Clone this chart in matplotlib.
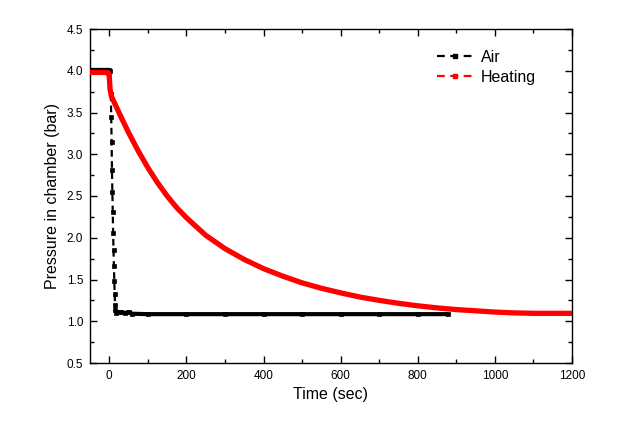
import numpy as np
import matplotlib
matplotlib.use("Agg")
import matplotlib.pyplot as plt
from matplotlib.lines import Line2D
from matplotlib.ticker import MultipleLocator

plt.rcParams['font.family'] = ['Liberation Sans', 'DejaVu Sans']

# Air series (time in s, pressure in bar)
air_t = [-50, -40, -30, -20, -10, 0, 3, 4, 5, 6, 7, 8, 9, 10, 11, 12, 13, 14, 15, 16,
         18, 22, 30, 40, 50, 60, 100, 200, 300, 400, 500, 600, 700, 800, 878]
air_p = [4.01, 4.01, 4.01, 4.01, 4.01, 4.01, 4.0, 3.72, 3.45, 3.15, 2.81, 2.55, 2.31,
         2.06, 1.85, 1.66, 1.48, 1.33, 1.20, 1.13, 1.10, 1.11, 1.11, 1.10, 1.11, 1.09,
         1.085, 1.085, 1.085, 1.085, 1.085, 1.085, 1.085, 1.085, 1.085]

# Heating series
heat_t = [-50, -3, 0, 2, 5, 15, 30, 50, 75, 100, 125, 150, 175, 200, 250, 300, 350,
          400, 450, 500, 550, 600, 650, 700, 750, 800, 850, 900, 950, 1000, 1050,
          1100, 1200]
heat_p = [3.98, 3.98, 3.93, 3.78, 3.70, 3.60, 3.45, 3.26, 3.04, 2.84, 2.66, 2.50, 2.36,
          2.24, 2.03, 1.87, 1.74, 1.63, 1.54, 1.46, 1.395, 1.34, 1.29, 1.25, 1.215,
          1.185, 1.16, 1.14, 1.125, 1.11, 1.10, 1.095, 1.095]

x_ticks = [0, 200, 400, 600, 800, 1000, 1200]
y_ticks = [0.5, 1.0, 1.5, 2.0, 2.5, 3.0, 3.5, 4.0, 4.5]

fig = plt.figure(figsize=(6.18, 4.38), dpi=100)
ax = fig.add_axes([90/618, 1-363/438, (572-90)/618, (363-29)/438])

at = np.array(air_t, float)
ap = np.array(air_p, float)
slope = np.abs(np.gradient(ap, at))
band = np.where(slope < 0.05, ap, np.nan)

ax.plot(at, ap, color='black', ls=(0, (3, 2)), lw=1.6, marker='s', ms=2.6,
        markeredgewidth=0.5, zorder=2)
ax.plot(at, band, color='black', ls='-', lw=3.0, solid_capstyle='butt', zorder=2)
ax.plot(heat_t, heat_p, color='#ff0000', ls='-', lw=3.8, zorder=3)

ax.set_xlim(-50, 1200)
ax.set_ylim(0.5, 4.5)
ax.set_xticks(x_ticks)
ax.set_yticks(y_ticks)
ax.set_yticklabels([f"{v:.1f}" for v in y_ticks])
ax.xaxis.set_minor_locator(MultipleLocator(100))
ax.yaxis.set_minor_locator(MultipleLocator(0.25))
ax.tick_params(which='both', direction='in', top=True, right=True, width=1,
               labelsize=8.5, colors='black')
ax.tick_params(which='major', length=5, pad=5)
ax.tick_params(which='minor', length=3)
for s in ax.spines.values():
    s.set_linewidth(1)

ax.set_xlabel('Time (sec)', fontsize=11.5, labelpad=4)
ax.set_ylabel('Pressure in chamber (bar)', fontsize=11.5, labelpad=5)

handles = [Line2D([], [], color='black', ls=(0, (3.5, 2.5)), lw=1.6, marker='s', ms=3),
           Line2D([], [], color='#ff0000', ls=(0, (3.5, 2.5)), lw=1.6, marker='s', ms=3)]
ax.legend(handles, ['Air', 'Heating'], loc='upper left', frameon=False, fontsize=11.5,
          handlelength=2.3, numpoints=1, bbox_to_anchor=((437-90)/482, 1 - (50-29)/334),
          labelspacing=0.3, handletextpad=0.45, borderpad=0, borderaxespad=0)

fig.savefig('out.png', dpi=100)
